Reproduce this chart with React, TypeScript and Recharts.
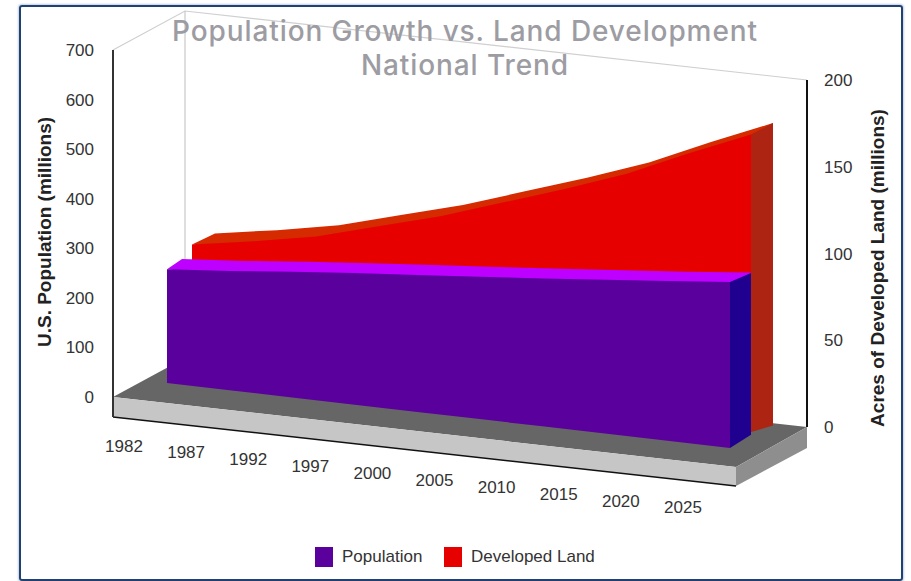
import React from "react";
import { Area, ComposedChart, Legend, XAxis, YAxis } from "recharts";

// Series, read per forecast year
const years = ["1982", "1987", "1992", "1997", "2000", "2005", "2010", "2015", "2020", "2025"];
const population = [231, 242, 255, 267, 278, 289, 300, 312, 324, 337];
const developedLand = [71, 77, 84, 94, 104, 116, 128, 141, 157, 172];
const populationTicks = [0, 100, 200, 300, 400, 500, 600, 700];
const landTicks = [0, 50, 100, 150, 200];
const legendItems = [
  { name: "Population", color: "#5a009c" },
  { name: "Developed Land", color: "#e60000" },
];

// Oblique projection shared by the extruded series
const SHEAR = 0.1155;
const LABEL_FONT = "'Liberation Sans', Arial, sans-serif";

type Row = { x: number; band: [number, number] };

const lerp = (a: number, b: number, t: number) => a + (b - a) * t;

// Upper face of an extruded series: the front edge pushed back by the depth.
const topFace = (values: number[], rise: number, depthStart: number, depthEnd: number): Row[] => [
  { x: 0, band: [values[0], values[0]] },
  ...values.map((v, i) => ({
    x: i + lerp(depthStart, depthEnd, i / (values.length - 1)),
    band: [values[0], v + rise] as [number, number],
  })),
];

// Right end cap of an extruded series.
const sideFace = (values: number[], rise: number, floorRise: number, depth: number): Row[] => {
  const last = values.length - 1;
  return [
    { x: last, band: [0, values[last]] },
    { x: last + depth, band: [floorRise, values[last] + rise] },
  ];
};

const frontFace = (values: number[]) => values.map((v, i) => ({ x: i, value: v }));

const popDepth = 0.336;
const landDepth = 0.354;
const popWidth = 584;
const landWidth = 581;
const labelGutter = 70;

const sheared = (tx: number, ty: number, width: number, height: number): React.CSSProperties => ({
  position: "absolute",
  left: 0,
  top: 0,
  width,
  height,
  transformOrigin: "0 0",
  transform: `matrix(1, ${SHEAR}, 0, 1, ${tx}, ${ty})`,
});

// Year labels sit below the floor; the text is un-sheared so it reads upright.
const YearTick = (props: any) => {
  const { x, y, payload } = props;
  return (
    <text
      transform={`translate(${x - 43 - payload.value * 0.45}, ${y + 60 - payload.value * 0.3}) matrix(1, ${-SHEAR}, 0, 1, 0, 0)`}
      textAnchor="middle"
      dominantBaseline="central"
      fontFamily={LABEL_FONT}
      fontSize={17}
      fill="#333"
    >
      {years[payload.value]}
    </text>
  );
};

const axisTitle = (text: string, x: number, y: number) => () =>
  (
    <text
      x={x}
      y={y}
      transform={`rotate(-90 ${x} ${y})`}
      textAnchor="middle"
      dominantBaseline="central"
      fontFamily={LABEL_FONT}
      fontSize={19}
      fontWeight={700}
      fill="#222"
    >
      {text}
    </text>
  );

const LegendRow = () => (
  <div style={{ position: "relative", height: 24, fontFamily: LABEL_FONT, fontSize: 17, color: "#333" }}>
    {legendItems.map((item, i) => (
      <div
        key={item.name}
        style={{ position: "absolute", left: i === 0 ? 0 : 129, top: 0, display: "flex", alignItems: "center", whiteSpace: "nowrap" }}
      >
        <span style={{ width: 18, height: 20, background: item.color, marginRight: 9, display: "block" }} />
        {item.name}
      </div>
    ))}
  </div>
);

export default function App() {
  return (
    <div style={{ position: "absolute", left: 0, top: 0, width: 911, height: 581, overflow: "hidden", background: "#fff" }}>
      {/* Panel border */}
      <div
        style={{
          position: "absolute",
          left: 19,
          top: 5,
          width: 880,
          height: 572,
          border: "2.5px solid #1f4272",
          borderRadius: 3,
          boxShadow: "0 0 2px 1px #c4cede",
        }}
      />

      {/* Floor slab and back wall */}
      <svg width={911} height={581} style={{ position: "absolute", left: 0, top: 0 }}>
        <polyline points="113,50 185,11 807,80" fill="none" stroke="#cfcfcf" strokeWidth={1.2} />
        <line x1={185} y1={11} x2={185} y2={300} stroke="#c8c8c8" strokeWidth={1.2} />
        <polygon points="113,397 736,467 807,427 185,358" fill="#666666" />
        <polygon points="113,397 736,467 736,486 113,417" fill="#c6c6c6" />
        <polygon points="736,467 807,427 807,448 736,486" fill="#8e8e8e" />
        <line x1={113} y1={417} x2={736} y2={486} stroke="#111" strokeWidth={1.5} />
        <line x1={113} y1={397} x2={113} y2={417} stroke="#333" strokeWidth={2} />
      </svg>

      {/* Left value axis */}
      <div style={{ position: "absolute", left: 0, top: 0 }}>
        <ComposedChart width={300} height={581} data={frontFace(population)} margin={{ top: 50, left: 20, right: 187, bottom: 184 }}>
          <XAxis hide type="number" dataKey="x" domain={[0, 9]} />
          <YAxis
            type="number"
            domain={[0, 700]}
            ticks={populationTicks}
            width={93}
            tickLine={false}
            tickMargin={13}
            axisLine={{ stroke: "#333", strokeWidth: 2 }}
            tick={{ fontFamily: LABEL_FONT, fontSize: 17, fill: "#333" }}
            label={{ content: axisTitle("U.S. Population (millions)", 44, 232) }}
          />
          <Area dataKey="value" type="linear" fill="none" stroke="none" isAnimationActive={false} />
        </ComposedChart>
      </div>

      {/* Right value axis */}
      <div style={{ position: "absolute", left: 611, top: 0 }}>
        <ComposedChart width={300} height={581} data={frontFace(developedLand)} margin={{ top: 80, left: 0, right: 10, bottom: 154 }}>
          <XAxis hide type="number" dataKey="x" domain={[0, 9]} />
          <YAxis
            orientation="right"
            type="number"
            domain={[0, 200]}
            ticks={landTicks}
            width={94}
            tickLine={false}
            tickMargin={11}
            axisLine={{ stroke: "#111", strokeWidth: 2 }}
            tick={{ fontFamily: LABEL_FONT, fontSize: 17, fill: "#333", textAnchor: "start" }}
            label={{ content: axisTitle("Acres of Developed Land (millions)", 266, 268) }}
          />
          <Area dataKey="value" type="linear" fill="none" stroke="none" isAnimationActive={false} />
        </ComposedChart>
      </div>

      {/* Developed land block, set behind the population block */}
      <div style={sheared(192, 21.4, landWidth, 346)}>
        <ComposedChart width={landWidth} height={346} data={frontFace(developedLand)} margin={{ top: 0, left: 0, right: 0, bottom: 0 }}>
          <XAxis hide type="number" dataKey="x" domain={[0, 9 + landDepth]} />
          <YAxis hide type="number" domain={[0, 200]} />
          <Area
            data={topFace(developedLand, 8, 0.37, landDepth)}
            dataKey="band"
            type="linear"
            fill="#d62a00"
            fillOpacity={1}
            stroke="none"
            isAnimationActive={false}
          />
          <Area dataKey="value" type="linear" fill="#e60000" fillOpacity={1} stroke="none" isAnimationActive={false} />
          <Area
            data={sideFace(developedLand, 8, 5.2, landDepth)}
            dataKey="band"
            type="linear"
            fill="#ae2412"
            fillOpacity={1}
            stroke="none"
            isAnimationActive={false}
          />
        </ComposedChart>
      </div>

      {/* Population block with the year labels */}
      <div style={sheared(167 - labelGutter, 38 - SHEAR * labelGutter, popWidth + labelGutter, 445)}>
        <ComposedChart
          width={popWidth + labelGutter}
          height={445}
          data={frontFace(population)}
          margin={{ top: 0, left: labelGutter, right: 0, bottom: 70 }}
        >
          <XAxis
            type="number"
            dataKey="x"
            domain={[0, 9 + popDepth]}
            ticks={years.map((_, i) => i)}
            height={30}
            axisLine={false}
            tickLine={false}
            tick={YearTick}
            interval={0}
          />
          <YAxis hide type="number" domain={[0, 700]} />
          <Area
            data={topFace(population, 24, 0.24, popDepth)}
            dataKey="band"
            type="linear"
            fill="#bd00ff"
            fillOpacity={1}
            stroke="none"
            isAnimationActive={false}
          />
          <Area dataKey="value" type="linear" fill="#5a009c" fillOpacity={1} stroke="none" isAnimationActive={false} />
          <Area
            data={sideFace(population, 23, 32, popDepth)}
            dataKey="band"
            type="linear"
            fill="#20008e"
            fillOpacity={1}
            stroke="none"
            isAnimationActive={false}
          />
        </ComposedChart>
      </div>

      {/* Legend */}
      <div style={{ position: "absolute", left: 315, top: 543 }}>
        <ComposedChart width={290} height={32} data={frontFace(population)} margin={{ top: 0, left: 0, right: 0, bottom: 0 }}>
          <Legend content={<LegendRow />} verticalAlign="top" align="left" wrapperStyle={{ left: 0, top: 4, width: 290 }} />
        </ComposedChart>
      </div>

      {/* Title */}
      <div
        style={{
          position: "absolute",
          left: 115,
          top: 14,
          width: 700,
          textAlign: "center",
          fontFamily: "Inter, sans-serif",
          fontWeight: 500,
          fontSize: 28,
          letterSpacing: 0.9,
          lineHeight: "34px",
          color: "#9c9ca2",
        }}
      >
        Population Growth vs. Land Development
        <br />
        National Trend
      </div>
    </div>
  );
}
